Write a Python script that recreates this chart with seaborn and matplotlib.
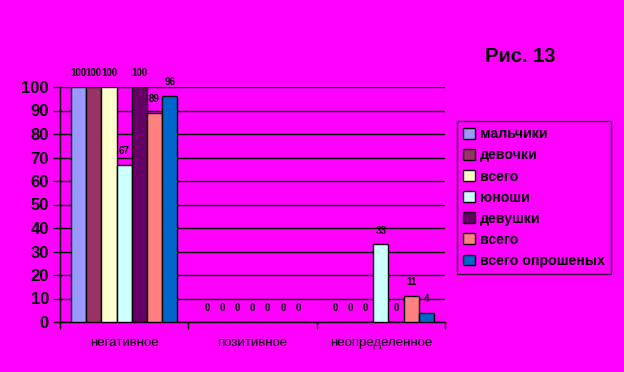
import matplotlib
matplotlib.use("Agg")
import matplotlib.pyplot as plt
from matplotlib.patches import Patch
from matplotlib import font_manager
import seaborn as sns
import pandas as pd

categories = ["негативное", "позитивное", "неопределенное"]
series_labels = ["мальчики", "девочки", "всего", "юноши", "девушки", "всего", "всего опрошеных"]
series_keys = ["s1", "s2", "s3", "s4", "s5", "s6", "s7"]
values = {
    "s1": [100, 0, 0],
    "s2": [100, 0, 0],
    "s3": [100, 0, 0],
    "s4": [67, 0, 33],
    "s5": [100, 0, 0],
    "s6": [89, 0, 11],
    "s7": [96, 0, 4],
}
colors = ["#9999FF", "#993366", "#FFFFCC", "#CCFFFF", "#660066", "#FF8080", "#0066CC"]
title = "Рис. 13"

rows = []
for k in series_keys:
    for c, v in zip(categories, values[k]):
        rows.append({"cat": c, "series": k, "value": v})
df = pd.DataFrame(rows)

sns.set_style("white")
plt.rcParams["font.family"] = ["Liberation Sans", "DejaVu Sans"]
plt.rcParams["text.color"] = "black"
plt.rcParams["xtick.color"] = "black"
plt.rcParams["ytick.color"] = "black"

names = {f.name for f in font_manager.fontManager.ttflist}
narrow = "Liberation Sans Narrow" if "Liberation Sans Narrow" in names else "Liberation Sans"

bg = "#FF00FF"
fig = plt.figure(figsize=(6.24, 3.72), dpi=100, facecolor=bg)
ax = fig.add_axes([60 / 624, 1 - 322 / 372, 385 / 624, 235 / 372])
ax.set_facecolor(bg)

sns.barplot(data=df, x="cat", y="value", hue="series", order=categories,
            hue_order=series_keys, palette=colors, saturation=1, width=0.83, gap=0,
            edgecolor="black", linewidth=1, legend=False, ax=ax, zorder=3)

ax.set_ylim(0, 100)
ax.set_xlim(-0.5, 2.5)
ax.set_yticks(range(0, 101, 10))
ax.yaxis.grid(True, color="black", linewidth=1)
ax.set_axisbelow(True)
for sp in ["top", "right"]:
    ax.spines[sp].set_visible(False)
for sp in ["left", "bottom"]:
    ax.spines[sp].set_color("black")
    ax.spines[sp].set_linewidth(1)
ax.set_xlabel("")
ax.set_ylabel("")
ax.tick_params(axis="y", length=5, width=1, colors="black", labelsize=12, pad=3, left=True)
for t in ax.get_yticklabels():
    t.set_fontweight("bold")
ax.set_xticks([-0.5, 0.5, 1.5, 2.5], minor=False)
ax.set_xticklabels([])
ax.tick_params(axis="x", length=5, width=1, colors="black", bottom=True, direction="out")
ax.set_xticks([0, 1, 2], minor=True)
ax.set_xticklabels(categories, minor=True)
ax.tick_params(axis="x", which="minor", length=0, labelsize=9.5, pad=11, colors="black")

for cont in ax.containers:
    for bar in cont:
        h = bar.get_height()
        ax.text(bar.get_x() + bar.get_width() / 2, h + 3.8, f"{int(round(h))}",
                ha="center", va="bottom", fontsize=7, fontweight="bold",
                family=narrow, color="black", clip_on=False, zorder=5)

handles = [Patch(facecolor=c, edgecolor="black", linewidth=1) for c in colors]
leg = fig.legend(handles, series_labels, loc="upper left",
                 bbox_to_anchor=(457 / 624, 1 - 121 / 372),
                 frameon=True, fancybox=False, facecolor=bg, edgecolor="black",
                 prop={"size": 10.2, "weight": "bold"}, handlelength=0.8, handleheight=0.8,
                 handletextpad=0.35, labelspacing=0.5, borderpad=0.45, borderaxespad=0)
leg.get_frame().set_linewidth(1)
for t in leg.get_texts():
    t.set_color("black")

fig.text(520 / 624, 1 - 57 / 372, title, ha="center", va="center",
         fontsize=14.5, fontweight="bold", color="black")

fig.savefig("out.png", dpi=100, facecolor=bg)
